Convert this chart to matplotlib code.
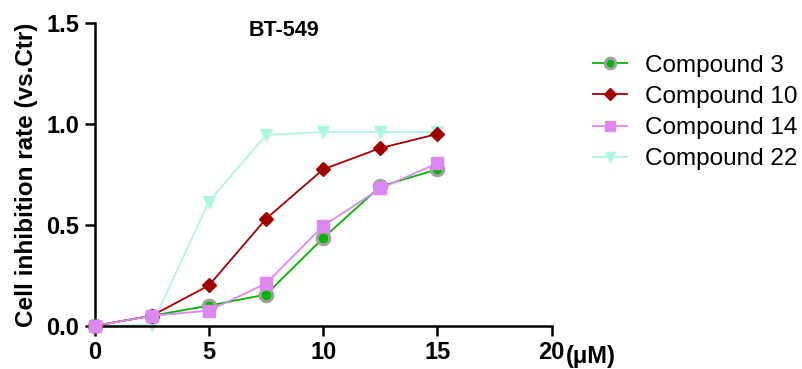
import matplotlib.pyplot as plt

plt.rcParams['font.family'] = ['Liberation Sans', 'DejaVu Sans']

# concentrations (uM)
conc = [0, 2.5, 5, 7.5, 10, 12.5, 15]

cmpd3 = [0.0, 0.05, 0.10, 0.155, 0.435, 0.69, 0.775]
cmpd10 = [0.0, 0.05, 0.20, 0.53, 0.775, 0.88, 0.95]
cmpd14 = [0.0, 0.05, 0.075, 0.21, 0.495, 0.68, 0.805]
cmpd22 = [0.0, 0.005, 0.615, 0.945, 0.96, 0.96, 0.96]

labels = ["Compound 3", "Compound 10", "Compound 14", "Compound 22"]

fig = plt.figure(figsize=(8.02, 3.69), dpi=100)
ax = fig.add_axes([0.118, 0.117, 0.570, 0.821])

ax.plot(conc, cmpd3, color="#00b400", lw=1.3, marker="o", ms=9,
        mfc="#00b400", mec="#a0a0a0", mew=2.2, label=labels[0], zorder=3)
ax.plot(conc, cmpd10, color="#a00000", lw=1.3, marker="D", ms=7,
        mfc="#a00000", mec="#a00000", label=labels[1], zorder=4)
ax.plot(conc, cmpd14, color="#dd88f0", lw=1.3, marker="s", ms=9,
        mfc="#dd88f0", mec="#dd88f0", label=labels[2], zorder=5)
ax.plot(conc, cmpd22, color="#b0f5e0", lw=1.3, marker="v", ms=9,
        mfc="#b0f5e0", mec="#b0f5e0", label=labels[3], zorder=2)

ax.set_xlim(0, 20)
ax.set_ylim(0, 1.5)
ax.set_xticks([0, 5, 10, 15, 20])
ax.set_yticks([0.0, 0.5, 1.0, 1.5])
ax.set_yticklabels(["0.0", "0.5", "1.0", "1.5"])

for s in ("top", "right"):
    ax.spines[s].set_visible(False)
for s in ("left", "bottom"):
    ax.spines[s].set_linewidth(1.8)
ax.tick_params(width=1.8, length=7, labelsize=17, pad=4)
for t in ax.get_xticklabels() + ax.get_yticklabels():
    t.set_fontweight("bold")

ax.set_ylabel("Cell inhibition rate (vs.Ctr)", fontsize=17.5, fontweight="bold", labelpad=6)
ax.text(8.3, 1.46, "BT-549", fontsize=15.5, fontweight="bold", ha="center", va="center")
ax.text(1.03, -0.1, "(μM)", transform=ax.transAxes, fontsize=17,
        fontweight="bold", ha="left", va="center")

for line in ax.get_lines():
    line.set_clip_on(False)

fig.legend(loc="upper left", bbox_to_anchor=(0.739, 0.852), frameon=False,
           fontsize=17.5, handlelength=1.4, labelspacing=0.38,
           handletextpad=0.75, borderpad=0, borderaxespad=0, markerscale=0.85)

fig.savefig("out.png", dpi=100)
